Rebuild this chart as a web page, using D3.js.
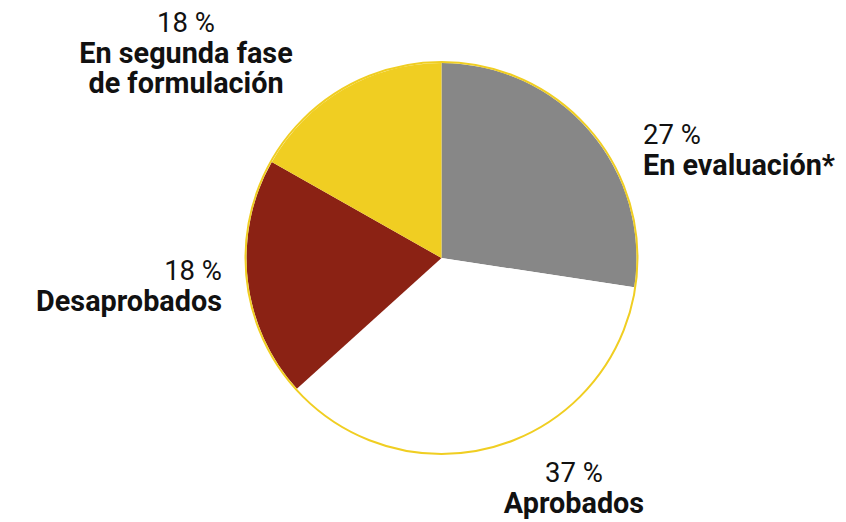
<!DOCTYPE html>
<html>
<head>
<meta charset="utf-8">
<title>estado</title>
<style>
  body { margin: 0; background: #fff; }
  text { font-family: Roboto, "Open Sans", sans-serif; fill: #111; }
</style>
</head>
<body>
<div id="chart"></div>
<script src="https://d3js.org/d3.v7.min.js"></script>
<script>
// categorias, valores (tal como se ven en la torta) y etiquetas
var categorias = ["En evaluación*", "Aprobados", "Desaprobados", "En segunda fase de formulación"];
var valores = [27.4, 35.9, 19.9, 16.8];
var porcentajes = ["27 %", "37 %", "18 %", "18 %"];
var colores = ["#878787", "#ffffff", "#8b2214", "#f0ce22"];

var w = 846, h = 522;
var cx = 441.5, cy = 258, r = 195;

var svg = d3.select("#chart").append("svg")
  .attr("width", w)
  .attr("height", h);

var g = svg.append("g").attr("transform", "translate(" + cx + "," + cy + ")");

var pie = d3.pie().sort(null).value(function(d){ return d; });
var arc = d3.arc().innerRadius(0).outerRadius(r);
var arcs = pie(valores);

g.selectAll("path")
  .data(arcs)
  .enter()
  .append("path")
  .attr("d", arc)
  .attr("fill", function(d, i){ return colores[i]; });

// borde amarillo
g.append("circle")
  .attr("r", r + 1)
  .attr("fill", "none")
  .attr("stroke", "#f0ce22")
  .attr("stroke-width", 2);

// donde va cada etiqueta (x, y de la primera linea, anclaje)
var pos = [
  {x: 643, y: 144, anchor: "start"},
  {x: 574, y: 482, anchor: "middle"},
  {x: 222, y: 280, anchor: "end"},
  {x: 186, y: 32, anchor: "middle"}
];
// nombres largos partidos en lineas
function lineas(s){
  if (s == "En segunda fase de formulación") return ["En segunda fase", "de formulación"];
  return [s];
}

categorias.forEach(function(c, i){
  var p = pos[i];
  var t = svg.append("text")
    .attr("x", p.x)
    .attr("y", p.y)
    .attr("text-anchor", p.anchor);
  t.append("tspan")
    .attr("x", p.x)
    .attr("font-size", "27.5px")
    .attr("font-weight", 400)
    .text(porcentajes[i]);
  lineas(c).forEach(function(l){
    t.append("tspan")
      .attr("x", p.x)
      .attr("dy", 30.5)
      .attr("font-size", "28.8px")
      .attr("font-weight", 700)
      .text(l);
  });
});
</script>
</body>
</html>
